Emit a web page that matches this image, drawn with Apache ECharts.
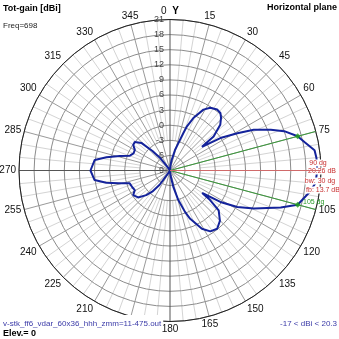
<!DOCTYPE html>
<html>
<head>
<meta charset="utf-8">
<script src="https://cdn.jsdelivr.net/npm/echarts@6/dist/echarts.min.js"></script>
<style>
html,body{margin:0;padding:0;background:#fff;}
#c{width:339px;height:339px;}
</style>
</head>
<body>
<div id="c"></div>
<script>
// ---- data (azimuth in degrees, clockwise from north; gain in dBi) ----
const azimuthDeg = [0,5,9,13.7,18,19.7,21,24,28.8,32.7,37.7,41.2,44,47.7,52,53.5,57.2,61,64,68,71,75,78,82,85,90,95,99,105,108.5,114.4,118.5,122,125,126.4,129.3,135.3,141,146.5,151.3,157.3,160,164.3,168.5,174,180,195,205,212,216,220,224,229.8,236.3,240.9,246,252.3,256,259.1,262.8,270,278,281.8,286.2,290.3,295,300.4,304.8,308.9,313.9,318,322,326,335,350,360];
const gainDbi = [-9,-8.0,-6.9,-4.8,-2.6,-1.1,0.4,2.4,4.8,5.8,6.3,6.2,5.6,4.5,2.0,-1.1,2.9,6.3,9.5,12.6,15.0,17.26,18.3,20.0,20.2,20.26,20.0,19.0,17.26,14.2,9.3,6.2,2.8,-1.2,0.9,3.5,5.1,5.9,5.5,4.2,1.4,-0.2,-2.9,-5.7,-8,-9,-9,-9,-8.5,-5.5,-3.5,-2.2,-0.7,-0.2,-1.0,-0.8,-0.6,1.5,3.9,6.1,6.8,6.1,3.9,1.4,-0.5,-1.0,-0.9,-0.1,0,-1.1,-3.8,-6,-8.3,-9,-9,-9];
const ringTicks = {min: -9, max: 21, step: 3};
const angleTickStep = 15;
const mainDir = 90, maxGain = 20.26;
const bwDirs = [75, 105], bwGain = 17.26;
const annot = ['90 dg', '20.26 dB', 'bw: 30 dg', 'fb: 13.7 dB'];
const bwLabel = '105 dg';
const titleLeft = 'Tot-gain [dBi]', freqText = 'Freq=698', titleRight = 'Horizontal plane';
const fileText = 'v-stk_ff6_vdar_60x36_hhh_zmm=11-475.out', elevText = 'Elev.= 0', rangeText = '-17 < dBi < 20.3';

const CX = 170, CY = 170.5, R = 151;
const FONT = 'Liberation Sans, Arial, sans-serif';

const chart = echarts.init(document.getElementById('c'), null, {renderer: 'canvas'});
const pattern = azimuthDeg.map((a, i) => [gainDbi[i], a]);

function angleAxisBase(extra) {
  return Object.assign({
    type: 'value', min: 0, max: 360, interval: angleTickStep,
    startAngle: 90, clockwise: true,
    axisTick: {show: false}
  }, extra);
}

const option = {
  animation: false,
  backgroundColor: '#fff',
  polar: [
    {center: [CX, CY], radius: R},
    {center: [CX, CY], radius: [30, R]}
  ],
  angleAxis: [
    angleAxisBase({
      polarIndex: 0,
      axisLine: {lineStyle: {color: '#222', width: 1}},
      axisLabel: {
        margin: 3, color: '#111', fontSize: 10, fontFamily: FONT,
        formatter: v => (v === 360 || v === 90) ? '' : (v === 0 ? '{z|0}{y|  Y}' : String(v)),
        rich: {z: {fontSize: 10, fontFamily: FONT, color: '#111'}, y: {fontSize: 10, fontFamily: FONT, color: '#000', fontWeight: 'bold'}}
      },
      splitLine: {show: true, lineStyle: {color: ['#555', '#9a9a9a', '#9a9a9a', '#9a9a9a', '#9a9a9a', '#9a9a9a'], width: 1}},
      z: 1
    }),
    angleAxisBase({
      polarIndex: 1, interval: 5,
      axisLine: {show: false},
      axisLabel: {show: false},
      splitLine: {show: true, lineStyle: {color: ['rgba(0,0,0,0)', '#d4d4d4', '#d4d4d4'], width: 1}},
      z: 0
    })
  ],
  radiusAxis: [
    {
      polarIndex: 0, type: 'value', min: ringTicks.min, max: ringTicks.max, interval: ringTicks.step,
      axisLine: {show: false}, axisTick: {show: false},
      axisLabel: {margin: 6, color: '#444', fontSize: 9, fontFamily: FONT},
      splitLine: {show: true, lineStyle: {color: '#8c8c8c', width: 1}},
      z: 1
    },
    {
      polarIndex: 1, type: 'value', min: ringTicks.min, max: ringTicks.max,
      axisLine: {show: false}, axisTick: {show: false}, axisLabel: {show: false}, splitLine: {show: false}
    }
  ],
  series: [
    {
      type: 'line', coordinateSystem: 'polar', polarIndex: 0,
      data: pattern, symbol: 'none', smooth: false, clip: false,
      lineStyle: {color: '#14239b', width: 2}, z: 3
    },
    ...bwDirs.map(d => ({
      type: 'line', coordinateSystem: 'polar', polarIndex: 0,
      data: [[ringTicks.min, d], [ringTicks.max, d]], symbol: 'none', clip: false,
      lineStyle: {color: '#3a9a3a', width: 1}, z: 4, silent: true
    })),
    {
      type: 'line', coordinateSystem: 'polar', polarIndex: 0,
      data: [[ringTicks.min, mainDir], [23.6, mainDir]], symbol: 'none', clip: false,
      lineStyle: {color: '#d06a6a', width: 1}, z: 20, silent: true
    },
    {
      type: 'scatter', coordinateSystem: 'polar', polarIndex: 0,
      data: bwDirs.map(d => [bwGain, d]), symbol: 'diamond', symbolSize: 6,
      itemStyle: {color: '#1f9a1f'}, z: 5, clip: false
    }
  ],
  graphic: [
    {type: 'text', x: 3, y: 4, z: 10, style: {text: titleLeft, font: 'bold 9px ' + FONT, fill: '#000'}},
    {type: 'text', x: 3, y: 22, z: 10, style: {text: freqText, font: '8px ' + FONT, fill: '#222'}},
    {type: 'text', x: 337, y: 3, z: 10, style: {text: titleRight, font: 'bold 9px ' + FONT, fill: '#000', align: 'right'}},
    {type: 'text', x: 3, y: 315, z: 100, zlevel: 1, style: {text: fileText, font: '8px ' + FONT, fill: '#3a3aa8', backgroundColor: '#fff', padding: [5, 2, 1, 0]}},
    {type: 'text', x: 3, y: 329, z: 10, style: {text: elevText, font: 'bold 9px ' + FONT, fill: '#000'}},
    {type: 'text', x: 337, y: 319.5, z: 10, style: {text: rangeText, font: '8px ' + FONT, fill: '#3a3aa8', align: 'right'}},
    {type: 'text', x: 318, y: 159.5, z: 10, style: {text: annot[0], font: '7px ' + FONT, fill: '#c83030', align: 'center', backgroundColor: '#fff'}},
    {type: 'text', x: 322, y: 167.5, z: 10, style: {text: annot[1], font: '7px ' + FONT, fill: '#c83030', align: 'center', backgroundColor: '#fff'}},
    {type: 'text', x: 320, y: 177.5, z: 10, style: {text: annot[2], font: '7px ' + FONT, fill: '#c83030', align: 'center', backgroundColor: '#fff'}},
    {type: 'text', x: 323, y: 186.5, z: 10, style: {text: annot[3], font: '7px ' + FONT, fill: '#c83030', align: 'center', backgroundColor: '#fff'}},
    {type: 'text', x: 303, y: 199, z: 10, style: {text: bwLabel, font: '7px ' + FONT, fill: '#2a9a2a'}}
  ]
};
chart.setOption(option);
</script>
</body>
</html>
